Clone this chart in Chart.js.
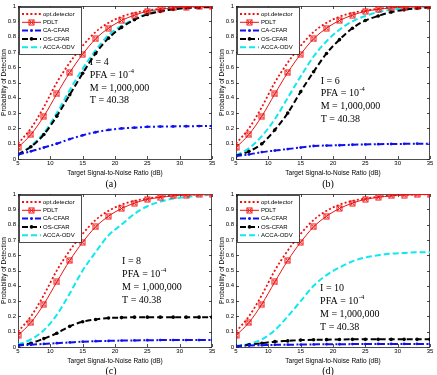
<!DOCTYPE html>
<html><head><meta charset="utf-8">
<script src="https://cdn.jsdelivr.net/npm/chart.js@4.4.0/dist/chart.umd.min.js"></script>
<style>
html,body{margin:0;padding:0;background:#fff;width:437px;height:375px;overflow:hidden;}
canvas{position:absolute;}
.cap{position:absolute;font-family:'Liberation Serif',serif;font-size:10px;color:#000;transform:translate(-50%,-50%);white-space:nowrap;}
</style></head><body>
<canvas id="c0" width="218" height="180" style="left:0;top:0"></canvas>
<canvas id="c1" width="219" height="180" style="left:218px;top:0"></canvas>
<canvas id="c2" width="218" height="180" style="left:0;top:185px"></canvas>
<canvas id="c3" width="219" height="180" style="left:218px;top:185px"></canvas>
<div class="cap" style="left:111px;top:183px">(a)</div>
<div class="cap" style="left:328px;top:183px">(b)</div>
<div class="cap" style="left:111px;top:370px">(c)</div>
<div class="cap" style="left:328px;top:370px">(d)</div>
<script>
// ---- data ----
const snr = [5,7,9,11,13,15,17,19,21,23,25,27,29,31,33,35];
const xTicks = [5,10,15,20,25,30,35];
const yTicks = [0,0.1,0.2,0.3,0.4,0.5,0.6,0.7,0.8,0.9,1];
const seriesNames = ['opt.detector','PDLT','CA-CFAR','OS-CFAR','ACCA-ODV'];
const panelLabels = ['(a)','(b)','(c)','(d)'];
const iValues = [4,6,8,10];

const optDetector = [0.10,0.20,0.34,0.50,0.63,0.74,0.83,0.89,0.93,0.955,0.97,0.982,0.99,0.995,0.997,0.999];
const pdlt        = [0.075,0.16,0.28,0.425,0.565,0.685,0.785,0.855,0.905,0.94,0.965,0.978,0.988,0.993,0.996,0.998];

const caA   = [0.03,0.05,0.075,0.10,0.13,0.155,0.175,0.19,0.20,0.205,0.21,0.212,0.213,0.214,0.215,0.215];
const osA   = [0.03,0.08,0.16,0.28,0.42,0.56,0.69,0.79,0.86,0.91,0.945,0.965,0.978,0.987,0.99,0.993];
const accaA = [0.03,0.085,0.17,0.30,0.45,0.59,0.71,0.81,0.87,0.915,0.95,0.97,0.98,0.988,0.992,0.995];

const caB   = [0.02,0.03,0.045,0.055,0.065,0.075,0.085,0.088,0.09,0.093,0.095,0.097,0.098,0.099,0.10,0.10];
const osB   = [0.02,0.05,0.10,0.19,0.30,0.44,0.57,0.69,0.78,0.855,0.905,0.935,0.96,0.975,0.985,0.99];
const accaB = [0.025,0.07,0.15,0.26,0.40,0.54,0.67,0.77,0.845,0.90,0.935,0.96,0.975,0.985,0.99,0.995];

const caC   = [0.01,0.015,0.02,0.025,0.03,0.035,0.038,0.04,0.042,0.043,0.044,0.045,0.045,0.045,0.045,0.045];
const osC   = [0.01,0.025,0.055,0.09,0.135,0.165,0.18,0.19,0.192,0.195,0.195,0.195,0.195,0.195,0.195,0.195];
const accaC = [0.015,0.05,0.11,0.21,0.35,0.50,0.62,0.73,0.80,0.87,0.92,0.95,0.97,0.98,0.99,0.995];

const caD   = [0.005,0.01,0.012,0.014,0.015,0.016,0.017,0.018,0.018,0.019,0.019,0.02,0.02,0.02,0.02,0.02];
const osD   = [0.005,0.015,0.025,0.035,0.04,0.045,0.047,0.048,0.049,0.05,0.05,0.05,0.05,0.05,0.05,0.05];
const accaD = [0.005,0.02,0.05,0.11,0.20,0.30,0.40,0.47,0.52,0.56,0.585,0.60,0.61,0.615,0.62,0.62];

const caAll = [caA,caB,caC,caD];
const osAll = [osA,osB,osC,osD];
const accaAll = [accaA,accaB,accaC,accaD];

// ---- styling / layout ----
const RED='#ee1111', BLUE='#1010ee', CYAN='#10e8f0', BLACK='#000';
const annotAnchor = [[16.1,0.63],[18.1,0.51],[21.1,0.557],[18.0,0.38]];
const padTop = [6,6,9,9], padRight=[6,7,6,7], xH=[21,21,18,18], xTitlePad=[3,3,0,0];

function squareX(color){
  const c=document.createElement('canvas'); c.width=7; c.height=7;
  const g=c.getContext('2d'); g.strokeStyle=color; g.lineWidth=1;
  g.strokeRect(1,1,5,5);
  g.beginPath(); g.moveTo(1.5,1.5); g.lineTo(5.5,5.5); g.moveTo(5.5,1.5); g.lineTo(1.5,5.5); g.stroke();
  return c;
}
const pdltMarker = squareX(RED);

const pts = arr => snr.map((x,i)=>({x:x,y:arr[i]}));

const axesPlugin = {
  id:'matlabAxes',
  beforeDatasetsDraw(chart){
    const {ctx, chartArea:a, scales:{x,y}} = chart;
    ctx.save();
    ctx.strokeStyle='#222'; ctx.lineWidth=0.8;
    ctx.strokeRect(a.left+0.5,a.top+0.5,a.right-a.left-1,a.bottom-a.top);
    ctx.beginPath();
    const tl=3;
    xTicks.forEach(v=>{const px=Math.round(x.getPixelForValue(v))+0.5;
      ctx.moveTo(px,a.bottom); ctx.lineTo(px,a.bottom-tl);
      ctx.moveTo(px,a.top); ctx.lineTo(px,a.top+tl);});
    yTicks.forEach(v=>{const py=Math.round(y.getPixelForValue(v))+0.5;
      ctx.moveTo(a.left,py); ctx.lineTo(a.left+tl,py);
      ctx.moveTo(a.right,py); ctx.lineTo(a.right-tl,py);});
    ctx.stroke();
    ctx.restore();
  },
  afterDatasetsDraw(chart){
    const {ctx, chartArea:a, scales:{x,y}} = chart;
    const idx = chart.options.plugins.matlabAxes.panel;
    // legend
    ctx.save();
    const L=a.left+1, T=a.top+1, W=62, H=47;
    ctx.fillStyle='#fff'; ctx.fillRect(L,T,W,H);
    ctx.strokeStyle='#222'; ctx.lineWidth=0.8; ctx.strokeRect(L+0.5,T+0.5,W,H);
    ctx.font='6px "Liberation Sans", Arial, sans-serif'; ctx.textBaseline='middle'; ctx.textAlign='left';
    chart.data.datasets.forEach((ds,i)=>{
      const yy=T+7+i*8.3, x1=L+3, x2=L+22;
      ctx.strokeStyle=ds.borderColor; ctx.lineWidth=ds.borderWidth; ctx.setLineDash(ds.borderDash||[]);
      ctx.beginPath(); ctx.moveTo(x1,yy); ctx.lineTo(x2,yy); ctx.stroke(); ctx.setLineDash([]);
      const xm=(x1+x2)/2;
      if(ds.pointStyle===pdltMarker){ ctx.drawImage(pdltMarker,xm-3.5,yy-3.5); }
      else if(ds.pointRadius>0){ ctx.fillStyle=ds.pointBackgroundColor; ctx.beginPath(); ctx.arc(xm,yy,ds.pointRadius,0,Math.PI*2); ctx.fill(); }
      ctx.fillStyle='#000'; ctx.fillText(ds.label,L+24,yy);
    });
    // annotation
    const [ax,ay]=annotAnchor[idx];
    const px=x.getPixelForValue(ax), py=y.getPixelForValue(ay);
    ctx.fillStyle='#000'; ctx.font='10px "Liberation Serif", "Times New Roman", serif';
    ctx.fillText('I = '+iValues[idx],px,py);
    const t='PFA = 10'; ctx.fillText(t,px,py+12.7);
    const w=ctx.measureText(t).width;
    ctx.font='6.5px "Liberation Serif", serif'; ctx.fillText('-4',px+w+0.5,py+12.7-4);
    ctx.font='10px "Liberation Serif", "Times New Roman", serif';
    ctx.fillText('M = 1,000,000',px,py+25.4);
    ctx.fillText('T = 40.38',px,py+38.1);
    ctx.restore();
  }
};

function makeChart(idx){
  const datasets = [
    {label:seriesNames[0], data:pts(optDetector), borderColor:RED, borderWidth:1.8, borderDash:[2,2.2], pointRadius:0},
    {label:seriesNames[1], data:pts(pdlt), borderColor:RED, borderWidth:1, pointStyle:pdltMarker, pointRadius:3.5},
    {label:seriesNames[2], data:pts(caAll[idx]), borderColor:BLUE, borderWidth:2, borderDash:[6,2.5,2,2.5], pointRadius:1.4, pointBackgroundColor:BLUE, pointBorderWidth:0},
    {label:seriesNames[3], data:pts(osAll[idx]), borderColor:BLACK, borderWidth:2, borderDash:[6,3], pointRadius:1.8, pointBackgroundColor:BLACK, pointBorderWidth:0},
    {label:seriesNames[4], data:pts(accaAll[idx]), borderColor:CYAN, borderWidth:2, borderDash:[6,3], pointRadius:0}
  ];
  datasets.forEach(d=>{d.fill=false; d.cubicInterpolationMode='monotone'; d.pointHoverRadius=0; d.borderCapStyle='butt';});
  const tickFont={family:'"Liberation Sans", Arial, sans-serif', size:6};
  return new Chart(document.getElementById('c'+idx),{
    type:'line',
    data:{datasets:datasets.slice().reverse().reverse()},
    options:{
      responsive:false, animation:false, devicePixelRatio:1,
      layout:{padding:{top:padTop[idx],right:padRight[idx],left:0,bottom:0}},
      plugins:{legend:{display:false},tooltip:{enabled:false},matlabAxes:{panel:idx}},
      scales:{
        x:{type:'linear',min:5,max:35,
          afterBuildTicks:s=>{s.ticks=xTicks.map(v=>({value:v}));},
          afterFit:s=>{s.height=xH[idx];},
          grid:{display:false,drawTicks:false}, border:{display:false},
          ticks:{font:tickFont,color:'#000',padding:1,maxRotation:0,autoSkip:false},
          title:{display:true,text:'Target Signal-to-Noise Ratio (dB)',color:'#000',
            font:{family:'"Liberation Sans", Arial, sans-serif',size:6.5},padding:{top:0,bottom:xTitlePad[idx]}}},
        y:{type:'linear',min:0,max:1,
          afterBuildTicks:s=>{s.ticks=yTicks.map(v=>({value:v}));},
          afterFit:s=>{s.width=18;},
          grid:{display:false,drawTicks:false}, border:{display:false},
          ticks:{font:tickFont,color:'#000',padding:2,autoSkip:false,callback:v=>String(+v.toFixed(1))},
          title:{display:true,text:'Probability of Detection',color:'#000',
            font:{family:'"Liberation Sans", Arial, sans-serif',size:6.5},padding:{top:0,bottom:0}}}
      }
    },
    plugins:[axesPlugin]
  });
}
[0,1,2,3].forEach(makeChart);
</script>
</body></html>
